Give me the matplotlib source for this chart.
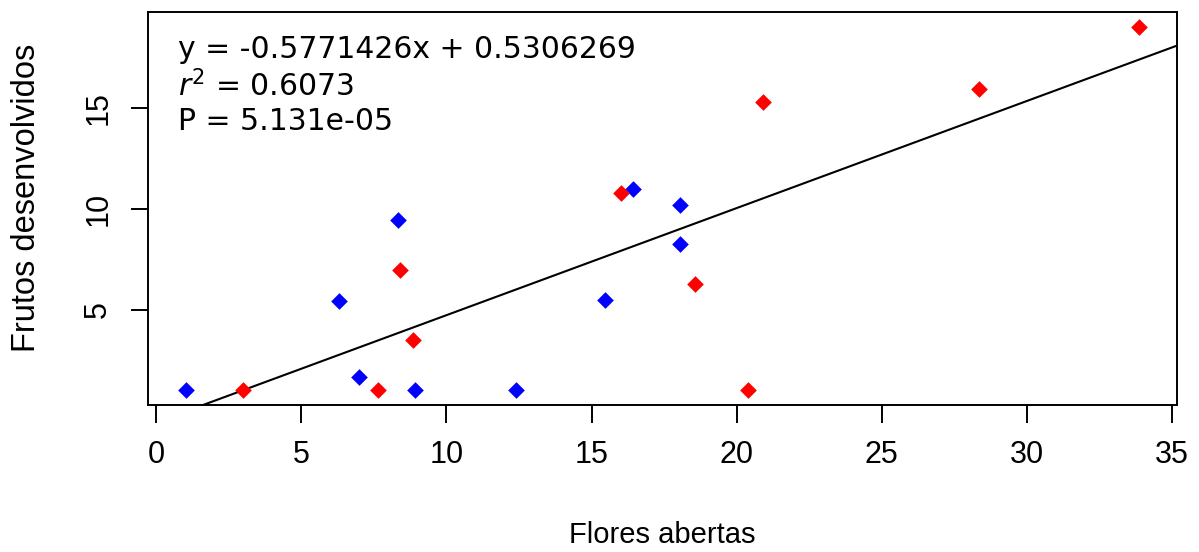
import matplotlib
matplotlib.use("Agg")
import matplotlib.pyplot as plt

# pontos azuis
flores_azul = [1.03, 6.29, 6.98, 8.33, 8.91, 12.39, 15.45, 16.42, 18.06, 18.06]
frutos_azul = [1.0, 5.42, 1.68, 9.45, 1.0, 1.0, 5.5, 10.98, 10.2, 8.28]

# pontos vermelhos
flores_verm = [3.0, 7.63, 8.39, 8.84, 16.02, 18.57, 20.38, 20.92, 28.34, 33.86]
frutos_verm = [1.0, 1.0, 6.95, 3.52, 10.78, 6.28, 1.0, 15.28, 15.95, 19.03]

# reta ajustada
intercepto = -0.5771426
inclinacao = 0.5306269

xticks = [0, 5, 10, 15, 20, 25, 30, 35]
yticks = [5, 10, 15]

W, H = 1199, 552
fig = plt.figure(figsize=(W / 100, H / 100), dpi=100)
ax = fig.add_axes([148 / W, 1 - 405 / H, (1177 - 148) / W, (405 - 12) / H])

ax.scatter(flores_azul, frutos_azul, marker="D", s=72, color="#0000ff", linewidths=0, zorder=3)
ax.scatter(flores_verm, frutos_verm, marker="D", s=72, color="#ff0000", linewidths=0, zorder=3)
ax.axline((0, intercepto), slope=inclinacao, color="black", lw=1.5, zorder=2)

# limites no estilo do R (4% de folga)
todos_x = flores_azul + flores_verm
todos_y = frutos_azul + frutos_verm
dx = (max(todos_x) - min(todos_x)) * 0.04
dy = (max(todos_y) - min(todos_y)) * 0.04
ax.set_xlim(min(todos_x) - dx, max(todos_x) + dx)
ax.set_ylim(min(todos_y) - dy, max(todos_y) + dy)

ax.set_xticks(xticks)
ax.set_yticks(yticks)
for s in ax.spines.values():
    s.set_linewidth(1.4)
ax.tick_params(axis="x", length=13, width=1.4, pad=12.5, labelsize=22)
ax.tick_params(axis="y", length=12, width=1.4, pad=13, labelsize=22)
for lab in ax.get_xticklabels() + ax.get_yticklabels():
    lab.set_family("Liberation Sans")
for lab in ax.get_yticklabels():
    lab.set_rotation(90)
    lab.set_va("center")

fig.text(662 / W, 1 - 535 / H, "Flores abertas", ha="center", va="center",
         fontsize=21, family="Liberation Sans")
fig.text(27 / W, 1 - 198 / H, "Frutos desenvolvidos", ha="center", va="center",
         rotation=90, fontsize=23.5, family="Liberation Sans")

# texto da equacao
fig.text(178 / W, 1 - 50 / H, "y = -0.5771426x + 0.5306269", ha="left", va="center",
         fontsize=21.5, family="DejaVu Sans")
fig.text(178 / W, 1 - 86 / H, "$r^2$ = 0.6073", ha="left", va="center",
         fontsize=21.5, family="DejaVu Sans")
fig.text(178 / W, 1 - 121 / H, "P = 5.131e-05", ha="left", va="center",
         fontsize=21.5, family="DejaVu Sans")

fig.savefig("out.png", dpi=100)
